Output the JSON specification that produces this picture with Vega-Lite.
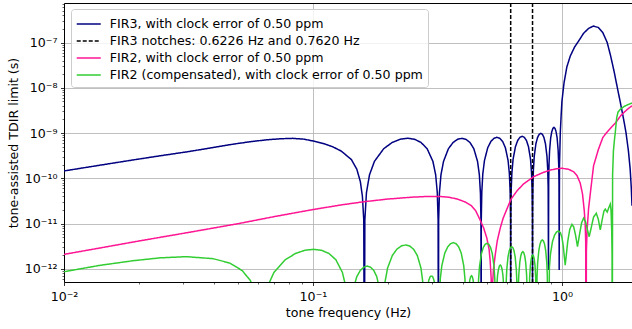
{
  "$schema": "https://vega.github.io/schema/vega-lite/v6.json",
  "width": 568,
  "height": 279,
  "autosize": {"type": "none"},
  "padding": {"left": 64, "top": 3, "right": 0, "bottom": 47},
  "background": "white",
  "datasets": {
    "fir3": [
      {"f":0.01,"v":1.46e-10},{"f":0.0139,"v":1.95e-10},{"f":0.0189,"v":2.55e-10},{"f":0.0243,"v":3.15e-10},{"f":0.0316,"v":3.9e-10},{"f":0.0397,"v":4.8e-10},{"f":0.0478,"v":5.7e-10},{"f":0.0565,"v":6.5e-10},{"f":0.0652,"v":7.1e-10},{"f":0.074,"v":7.5e-10},{"f":0.083,"v":7.65e-10},{"f":0.092,"v":7.35e-10},{"f":0.1,"v":6.7e-10},{"f":0.11,"v":5.9e-10},{"f":0.12,"v":5.0e-10},{"f":0.13,"v":4.0e-10},{"f":0.1427,"v":2.6e-10},{"f":0.15,"v":1.6e-10},{"f":0.155,"v":8.5e-11},{"f":0.158,"v":4e-11},{"f":0.16,"v":1.2e-11},{"f":0.1608,"v":1e-15},
      {"f":0.1616,"v":1.21e-11},{"f":0.164,"v":4.84e-11},{"f":0.1687,"v":1.2e-10},{"f":0.1766,"v":2.38e-10},{"f":0.1924,"v":4.53e-10},{"f":0.2083,"v":6.23e-10},{"f":0.2241,"v":7.32e-10},{"f":0.2399,"v":7.7e-10},{"f":0.2557,"v":7.32e-10},{"f":0.2715,"v":6.23e-10},{"f":0.2874,"v":4.53e-10},{"f":0.3032,"v":2.38e-10},{"f":0.3111,"v":1.2e-10},{"f":0.3158,"v":4.84e-11},{"f":0.3182,"v":1.21e-11},{"f":0.319,"v":1e-15},
      {"f":0.3198,"v":1.2e-11},{"f":0.3221,"v":4.82e-11},{"f":0.3267,"v":1.2e-10},{"f":0.3345,"v":2.37e-10},{"f":0.3499,"v":4.51e-10},{"f":0.3654,"v":6.2e-10},{"f":0.3809,"v":7.29e-10},{"f":0.3964,"v":7.67e-10},{"f":0.4118,"v":7.29e-10},{"f":0.4273,"v":6.2e-10},{"f":0.4428,"v":4.51e-10},{"f":0.4582,"v":2.37e-10},{"f":0.466,"v":1.2e-10},{"f":0.4706,"v":4.82e-11},{"f":0.4729,"v":1.2e-11},{"f":0.4737,"v":1e-15},
      {"f":0.4744,"v":1.27e-11},{"f":0.4767,"v":5.07e-11},{"f":0.4811,"v":1.26e-10},{"f":0.4886,"v":2.5e-10},{"f":0.5035,"v":4.75e-10},{"f":0.5184,"v":6.54e-10},{"f":0.5333,"v":7.68e-10},{"f":0.5482,"v":8.08e-10},{"f":0.563,"v":7.68e-10},{"f":0.5779,"v":6.54e-10},{"f":0.5928,"v":4.75e-10},{"f":0.6077,"v":2.5e-10},{"f":0.6152,"v":1.26e-10},{"f":0.6196,"v":5.07e-11},{"f":0.6219,"v":1.27e-11},{"f":0.6226,"v":1e-15},
      {"f":0.6233,"v":1.33e-11},{"f":0.6254,"v":5.34e-11},{"f":0.6296,"v":1.33e-10},{"f":0.6365,"v":2.63e-10},{"f":0.6505,"v":5.0e-10},{"f":0.6644,"v":6.88e-10},{"f":0.6784,"v":8.08e-10},{"f":0.6923,"v":8.5e-10},{"f":0.7062,"v":8.08e-10},{"f":0.7202,"v":6.88e-10},{"f":0.7341,"v":5.0e-10},{"f":0.7481,"v":2.63e-10},{"f":0.755,"v":1.33e-10},{"f":0.7592,"v":5.34e-11},{"f":0.7613,"v":1.33e-11},{"f":0.762,"v":1e-15},
      {"f":0.7626,"v":1.55e-11},{"f":0.7644,"v":6.22e-11},{"f":0.7681,"v":1.55e-10},{"f":0.7741,"v":3.06e-10},{"f":0.7862,"v":5.82e-10},{"f":0.7983,"v":8.01e-10},{"f":0.8104,"v":9.41e-10},{"f":0.8225,"v":9.9e-10},{"f":0.8346,"v":9.41e-10},{"f":0.8467,"v":8.01e-10},{"f":0.8588,"v":5.82e-10},{"f":0.8709,"v":3.06e-10},{"f":0.877,"v":1.55e-10},{"f":0.8806,"v":6.22e-11},{"f":0.883,"v":9.5e-13},
      {"f":0.8848,"v":8.4e-11},{"f":0.8876,"v":2.1e-10},{"f":0.8922,"v":4.14e-10},{"f":0.9014,"v":7.88e-10},{"f":0.9106,"v":1.08e-9},{"f":0.9198,"v":1.27e-9},{"f":0.929,"v":1.34e-9},{"f":0.9382,"v":1.27e-9},{"f":0.9474,"v":1.08e-9},{"f":0.9566,"v":7.88e-10},{"f":0.9658,"v":4.14e-10},{"f":0.9704,"v":2.1e-10},{"f":0.9732,"v":8.4e-11},{"f":0.975,"v":9.5e-13},
      {"f":0.978,"v":2e-10},{"f":0.985,"v":1.0e-9},{"f":0.993,"v":2.5e-9},{"f":1.0,"v":5e-9},{"f":1.02,"v":1.3e-8},{"f":1.047,"v":2.9e-8},{"f":1.08,"v":5e-8},{"f":1.125,"v":8e-8},{"f":1.17,"v":1.1e-7},{"f":1.222,"v":1.6e-7},{"f":1.28,"v":2.05e-7},{"f":1.337,"v":2.3e-7},{"f":1.4,"v":2.15e-7},{"f":1.46,"v":1.65e-7},{"f":1.52,"v":1.0e-7},{"f":1.57,"v":5e-8},{"f":1.62,"v":2.3e-8},{"f":1.67,"v":1.0e-8},{"f":1.72,"v":4.5e-9},{"f":1.77,"v":2e-9},{"f":1.81,"v":1e-9},{"f":1.85,"v":4e-10},{"f":1.88,"v":1.6e-10},{"f":1.9,"v":6e-11},{"f":1.912,"v":2.5e-11}
    ],
    "fir2": [
      {"f":0.01,"v":2.1e-12},{"f":0.0139,"v":2.9e-12},{"f":0.02,"v":4.15e-12},{"f":0.0316,"v":6.4e-12},{"f":0.05,"v":1.0e-11},{"f":0.0707,"v":1.45e-11},{"f":0.1,"v":2.05e-11},{"f":0.13,"v":2.6e-11},{"f":0.16,"v":3.05e-11},{"f":0.2,"v":3.5e-11},{"f":0.25,"v":3.85e-11},{"f":0.29,"v":4.0e-11},{"f":0.32,"v":4.0e-11},{"f":0.35,"v":3.85e-11},{"f":0.38,"v":3.5e-11},{"f":0.41,"v":3.0e-11},{"f":0.433,"v":2.5e-11},{"f":0.45,"v":1.95e-11},{"f":0.4695,"v":1.2e-11},{"f":0.485,"v":8e-12},{"f":0.4994,"v":4.8e-12},{"f":0.51,"v":2.7e-12},{"f":0.515,"v":1.5e-12},{"f":0.52,"v":6e-13},{"f":0.523,"v":1e-15},
      {"f":0.527,"v":5e-13},{"f":0.531,"v":1.0e-12},{"f":0.54,"v":2.1e-12},{"f":0.55,"v":4.2e-12},{"f":0.565,"v":7.9e-12},{"f":0.58,"v":1.3e-11},{"f":0.601,"v":2.1e-11},{"f":0.625,"v":3.5e-11},{"f":0.66,"v":5.3e-11},{"f":0.7,"v":7.5e-11},{"f":0.77,"v":1.09e-10},{"f":0.84,"v":1.35e-10},{"f":0.9,"v":1.53e-10},{"f":0.95,"v":1.63e-10},{"f":1.0,"v":1.67e-10},{"f":1.06,"v":1.6e-10},{"f":1.113,"v":1.41e-10},{"f":1.15,"v":1.15e-10},{"f":1.185,"v":7.8e-11},{"f":1.21,"v":4.5e-11},{"f":1.229,"v":2.0e-11},{"f":1.24,"v":1.0e-11},{"f":1.246,"v":4e-12},{"f":1.25,"v":1e-15},
      {"f":1.254,"v":2.5e-12},{"f":1.262,"v":7e-12},{"f":1.28,"v":2.2e-11},{"f":1.305,"v":5.5e-11},{"f":1.34,"v":1.9e-10},{"f":1.4,"v":4.3e-10},{"f":1.46,"v":8e-10},{"f":1.517,"v":1.05e-9},{"f":1.58,"v":1.35e-9},{"f":1.637,"v":1.65e-9},{"f":1.68,"v":2.0e-9},{"f":1.72,"v":2.4e-9},{"f":1.78,"v":2.9e-9},{"f":1.85,"v":3.5e-9},{"f":1.912,"v":4.0e-9}
    ],
    "fir2c": [
      {"f":0.01,"v":8.7e-13},{"f":0.0139,"v":1.2e-12},{"f":0.0189,"v":1.52e-12},{"f":0.0243,"v":1.76e-12},{"f":0.031,"v":1.87e-12},{"f":0.0397,"v":1.69e-12},{"f":0.0464,"v":1.35e-12},{"f":0.052,"v":9.2e-13},{"f":0.056,"v":5.6e-13},{"f":0.059,"v":2.8e-13},{"f":0.062,"v":1e-15},
      {"f":0.0659,"v":4.25e-13},{"f":0.0697,"v":8.4e-13},{"f":0.0774,"v":1.6e-12},{"f":0.0851,"v":2.2e-12},{"f":0.0928,"v":2.59e-12},{"f":0.1005,"v":2.72e-12},{"f":0.1082,"v":2.59e-12},{"f":0.1159,"v":2.2e-12},{"f":0.1236,"v":1.6e-12},{"f":0.1313,"v":8.4e-13},{"f":0.1352,"v":4.25e-13},{"f":0.14,"v":1e-15},
      {"f":0.145,"v":3.58e-13},{"f":0.1501,"v":6.82e-13},{"f":0.1551,"v":9.38e-13},{"f":0.1602,"v":1.1e-12},{"f":0.1652,"v":1.16e-12},{"f":0.1702,"v":1.1e-12},{"f":0.1753,"v":9.38e-13},{"f":0.1803,"v":6.82e-13},{"f":0.1854,"v":3.58e-13},{"f":0.1904,"v":1e-15},
      {"f":0.1949,"v":5.3e-13},{"f":0.1994,"v":1.05e-12},{"f":0.2084,"v":1.99e-12},{"f":0.2174,"v":2.74e-12},{"f":0.2264,"v":3.22e-12},{"f":0.2355,"v":3.39e-12},{"f":0.2445,"v":3.22e-12},{"f":0.2535,"v":2.74e-12},{"f":0.2625,"v":1.99e-12},{"f":0.2715,"v":1.05e-12},{"f":0.276,"v":5.3e-13},{"f":0.2805,"v":1e-15},
      {"f":0.2819,"v":1e-15},{"f":0.2888,"v":4.17e-13},{"f":0.2922,"v":5.74e-13},{"f":0.2956,"v":6.75e-13},{"f":0.2991,"v":7.1e-13},{"f":0.3026,"v":6.75e-13},{"f":0.306,"v":5.74e-13},{"f":0.3094,"v":4.17e-13},{"f":0.3163,"v":1e-15},
      {"f":0.32,"v":1e-15},{"f":0.3246,"v":5.96e-13},{"f":0.3293,"v":1.18e-12},{"f":0.3385,"v":2.24e-12},{"f":0.3478,"v":3.08e-12},{"f":0.357,"v":3.62e-12},{"f":0.3663,"v":3.81e-12},{"f":0.3756,"v":3.62e-12},{"f":0.3848,"v":3.08e-12},{"f":0.3941,"v":2.24e-12},{"f":0.4033,"v":1.18e-12},{"f":0.408,"v":5.96e-13},{"f":0.4126,"v":1e-15},
      {"f":0.4166,"v":1e-15},{"f":0.4232,"v":4.17e-13},{"f":0.4266,"v":5.74e-13},{"f":0.4299,"v":6.75e-13},{"f":0.4332,"v":7.1e-13},{"f":0.4365,"v":6.75e-13},{"f":0.4398,"v":5.74e-13},{"f":0.4432,"v":4.17e-13},{"f":0.4498,"v":1e-15},
      {"f":0.4583,"v":1e-15},{"f":0.4625,"v":5.77e-13},{"f":0.4667,"v":1.14e-12},{"f":0.475,"v":2.17e-12},{"f":0.4834,"v":2.99e-12},{"f":0.4918,"v":3.51e-12},{"f":0.5002,"v":3.69e-12},{"f":0.5085,"v":3.51e-12},{"f":0.5169,"v":2.99e-12},{"f":0.5253,"v":2.17e-12},{"f":0.5336,"v":1.14e-12},{"f":0.5378,"v":5.77e-13},{"f":0.542,"v":1e-15},
      {"f":0.5467,"v":3.77e-13},{"f":0.5514,"v":7.17e-13},{"f":0.5561,"v":9.87e-13},{"f":0.5608,"v":1.16e-12},{"f":0.5655,"v":1.22e-12},{"f":0.5702,"v":1.16e-12},{"f":0.5749,"v":9.87e-13},{"f":0.5796,"v":7.17e-13},{"f":0.5843,"v":3.77e-13},{"f":0.589,"v":1e-15},
      {"f":0.5934,"v":1e-15},{"f":0.5969,"v":4.86e-13},{"f":0.6004,"v":9.61e-13},{"f":0.6073,"v":1.83e-12},{"f":0.6143,"v":2.52e-12},{"f":0.6212,"v":2.96e-12},{"f":0.6282,"v":3.11e-12},{"f":0.6352,"v":2.96e-12},{"f":0.6421,"v":2.52e-12},{"f":0.6491,"v":1.83e-12},{"f":0.656,"v":9.61e-13},{"f":0.6595,"v":4.86e-13},{"f":0.663,"v":1e-15},
      {"f":0.6648,"v":1e-15},{"f":0.668,"v":3.77e-13},{"f":0.6711,"v":7.45e-13},{"f":0.6774,"v":1.42e-12},{"f":0.6836,"v":1.95e-12},{"f":0.6899,"v":2.29e-12},{"f":0.6962,"v":2.41e-12},{"f":0.7025,"v":2.29e-12},{"f":0.7088,"v":1.95e-12},{"f":0.715,"v":1.42e-12},{"f":0.7213,"v":7.45e-13},{"f":0.7245,"v":3.77e-13},{"f":0.7276,"v":1e-15},
      {"f":0.7364,"v":1e-15},{"f":0.7418,"v":6.3e-13},{"f":0.7472,"v":1.2e-12},{"f":0.7526,"v":1.65e-12},{"f":0.758,"v":1.94e-12},{"f":0.7634,"v":2.04e-12},{"f":0.7688,"v":1.94e-12},{"f":0.7742,"v":1.65e-12},{"f":0.7796,"v":1.2e-12},{"f":0.785,"v":6.3e-13},{"f":0.79,"v":1e-15},
      {"f":0.7944,"v":6.83e-13},{"f":0.7988,"v":1.35e-12},{"f":0.8077,"v":2.57e-12},{"f":0.8165,"v":3.54e-12},{"f":0.8253,"v":4.16e-12},{"f":0.8342,"v":4.37e-12},{"f":0.843,"v":4.16e-12},{"f":0.8518,"v":3.54e-12},{"f":0.8606,"v":2.57e-12},{"f":0.8695,"v":1.35e-12},{"f":0.8739,"v":6.83e-13},{"f":0.8783,"v":1e-15},
      {"f":0.882,"v":1e-15},{"f":0.8907,"v":1.08e-12},{"f":0.8994,"v":2.13e-12},{"f":0.9168,"v":4.06e-12},{"f":0.9342,"v":5.58e-12},{"f":0.9516,"v":6.56e-12},{"f":0.969,"v":6.9e-12},{"f":0.986,"v":6.3e-12},{"f":1.0,"v":5.0e-12},{"f":1.012,"v":3.3e-12},{"f":1.022,"v":1.9e-12},{"f":1.031,"v":1.22e-12},{"f":1.04,"v":1.9e-12},{"f":1.055,"v":4e-12},{"f":1.075,"v":7.5e-12},{"f":1.097,"v":9.7e-12},{"f":1.115,"v":8.5e-12},{"f":1.135,"v":5.5e-12},{"f":1.155,"v":3.11e-12},{"f":1.175,"v":5.5e-12},{"f":1.2,"v":1.05e-11},{"f":1.222,"v":1.32e-11},{"f":1.245,"v":1.1e-11},{"f":1.265,"v":7.5e-12},{"f":1.287,"v":5.16e-12},{"f":1.31,"v":8e-12},{"f":1.34,"v":1.4e-11},{"f":1.374,"v":1.7e-11},{"f":1.4,"v":1.25e-11},{"f":1.426,"v":7.26e-12},{"f":1.45,"v":1.2e-11},{"f":1.475,"v":1.9e-11},{"f":1.493,"v":2.1e-11},{"f":1.52,"v":1.8e-11},{"f":1.545,"v":2.3e-11},{"f":1.564,"v":2.7e-11},{"f":1.575,"v":2e-11},{"f":1.585,"v":7e-12},{"f":1.59,"v":2e-12},{"f":1.592,"v":1e-15},
      {"f":1.598,"v":1.2e-10},{"f":1.61,"v":4e-10},{"f":1.625,"v":7e-10},{"f":1.637,"v":1e-9},{"f":1.66,"v":2.2e-9},{"f":1.68,"v":2.9e-9},{"f":1.72,"v":3.4e-9},{"f":1.78,"v":3.9e-9},{"f":1.85,"v":4.3e-9},{"f":1.912,"v":4.6e-9}
    ],
    "notches": [{"f":0.6226},{"f":0.762}],
    "anchor": [{"f":0.1,"v":1e-10}]
  },
  "layer": [
    {
      "data": {"name": "fir3"},
      "mark": {"type": "line", "clip": true, "strokeWidth": 1.5},
      "encoding": {
        "x": {"field": "f", "type": "quantitative", "scale": {"type": "log", "domain": [0.01, 1.912], "nice": false},
          "axis": {"orient": "bottom", "values": [0.01, 0.1, 1], "grid": true, "labelExpr": "datum.value < 0.05 ? '10⁻²' : datum.value < 0.5 ? '10⁻¹' : '10⁰'", "title": "tone frequency (Hz)", "labelPadding": 4.5, "titlePadding": 4}},
        "y": {"field": "v", "type": "quantitative", "scale": {"type": "log", "domain": [5.16e-13, 7.45e-7], "nice": false},
          "axis": {"orient": "left", "values": [1e-12, 1e-11, 1e-10, 1e-9, 1e-8, 1e-7], "grid": true, "labelExpr": "'10' + (datum.value < 3e-12 ? '⁻¹²' : datum.value < 3e-11 ? '⁻¹¹' : datum.value < 3e-10 ? '⁻¹⁰' : datum.value < 3e-9 ? '⁻⁹' : datum.value < 3e-8 ? '⁻⁸' : '⁻⁷')", "title": "tone-assisted TDIR limit (s)", "titlePadding": 4}},
        "color": {"datum": "FIR3, with clock error of 0.50 ppm", "type": "nominal",
          "scale": {"domain": ["FIR3, with clock error of 0.50 ppm", "FIR3 notches: 0.6226 Hz and 0.7620 Hz", "FIR2, with clock error of 0.50 ppm", "FIR2 (compensated), with clock error of 0.50 ppm"], "range": ["#000080", "#000000", "#ff1493", "#32cd32"]}},
        "strokeDash": {"datum": "FIR3, with clock error of 0.50 ppm", "type": "nominal",
          "scale": {"domain": ["FIR3, with clock error of 0.50 ppm", "FIR3 notches: 0.6226 Hz and 0.7620 Hz", "FIR2, with clock error of 0.50 ppm", "FIR2 (compensated), with clock error of 0.50 ppm"], "range": [[1, 0], [4, 2], [1, 0], [1, 0]]}}
      }
    },
    {
      "data": {"name": "notches"},
      "mark": {"type": "rule", "strokeWidth": 1.5},
      "encoding": {
        "x": {"field": "f", "type": "quantitative", "scale": {"type": "log", "domain": [0.01, 1.912], "nice": false}, "axis": null},
        "color": {"datum": "FIR3 notches: 0.6226 Hz and 0.7620 Hz", "type": "nominal"},
        "strokeDash": {"datum": "FIR3 notches: 0.6226 Hz and 0.7620 Hz", "type": "nominal"}
      }
    },
    {
      "data": {"name": "fir2"},
      "mark": {"type": "line", "clip": true, "strokeWidth": 1.5},
      "encoding": {
        "x": {"field": "f", "type": "quantitative", "scale": {"type": "log", "domain": [0.01, 1.912], "nice": false}, "axis": null},
        "y": {"field": "v", "type": "quantitative", "scale": {"type": "log", "domain": [5.16e-13, 7.45e-7], "nice": false}, "axis": null},
        "color": {"datum": "FIR2, with clock error of 0.50 ppm", "type": "nominal"},
        "strokeDash": {"datum": "FIR2, with clock error of 0.50 ppm", "type": "nominal"}
      }
    },
    {
      "data": {"name": "fir2c"},
      "mark": {"type": "line", "clip": true, "strokeWidth": 1.5},
      "encoding": {
        "x": {"field": "f", "type": "quantitative", "scale": {"type": "log", "domain": [0.01, 1.912], "nice": false}, "axis": null},
        "y": {"field": "v", "type": "quantitative", "scale": {"type": "log", "domain": [5.16e-13, 7.45e-7], "nice": false}, "axis": null},
        "color": {"datum": "FIR2 (compensated), with clock error of 0.50 ppm", "type": "nominal"},
        "strokeDash": {"datum": "FIR2 (compensated), with clock error of 0.50 ppm", "type": "nominal"}
      }
    },
    {
      "data": {"name": "anchor"},
      "mark": {"type": "point", "opacity": 0, "size": 0},
      "encoding": {
        "x": {"field": "f", "type": "quantitative", "scale": {"type": "log", "domain": [0.01, 1.912], "nice": false},
          "axis": {"orient": "bottom", "values": [0.02,0.03,0.04,0.05,0.06,0.07,0.08,0.09,0.2,0.3,0.4,0.5,0.6,0.7,0.8,0.9], "labels": false, "grid": false, "domain": false, "tickSize": 2, "tickWidth": 0.6, "title": null}},
        "y": {"field": "v", "type": "quantitative", "scale": {"type": "log", "domain": [5.16e-13, 7.45e-7], "nice": false},
          "axis": {"orient": "left", "values": [6e-13,7e-13,8e-13,9e-13,2e-12,3e-12,4e-12,5e-12,6e-12,7e-12,8e-12,9e-12,2e-11,3e-11,4e-11,5e-11,6e-11,7e-11,8e-11,9e-11,2e-10,3e-10,4e-10,5e-10,6e-10,7e-10,8e-10,9e-10,2e-9,3e-9,4e-9,5e-9,6e-9,7e-9,8e-9,9e-9,2e-8,3e-8,4e-8,5e-8,6e-8,7e-8,8e-8,9e-8,2e-7,3e-7,4e-7,5e-7,6e-7,7e-7], "labels": false, "grid": false, "domain": false, "tickSize": 2, "tickWidth": 0.6, "title": null}}
      }
    },
    {
      "data": {"name": "anchor"},
      "mark": {"type": "point", "opacity": 0, "size": 0},
      "encoding": {
        "x": {"field": "f", "type": "quantitative", "scale": {"type": "log", "domain": [0.01, 1.912], "nice": false},
          "axis": {"orient": "top", "values": [0.1], "labels": false, "ticks": false, "grid": false, "domain": true, "title": null}},
        "y": {"field": "v", "type": "quantitative", "scale": {"type": "log", "domain": [5.16e-13, 7.45e-7], "nice": false}, "axis": null}
      }
    }
  ],
  "resolve": {"axis": {"x": "independent", "y": "independent"}},
  "config": {
    "font": "DejaVu Sans",
    "view": {"stroke": null},
    "axis": {
      "labelFont": "DejaVu Sans", "labelFontSize": 12.6, "labelColor": "#000000",
      "titleFont": "DejaVu Sans", "titleFontSize": 12.6, "titleFontWeight": "normal", "titleColor": "#000000",
      "tickColor": "#000000", "tickSize": 3.5, "tickWidth": 0.8,
      "domainColor": "#000000", "domainWidth": 1,
      "gridColor": "#b0b0b0", "gridWidth": 0.8,
      "labelPadding": 3.5, "labelFlush": false, "labelOverlap": false
    },
    "legend": {
      "orient": "none", "legendX": 7, "legendY": 6,
      "title": null,
      "fillColor": "rgba(255,255,255,0.8)", "strokeColor": "#cccccc", "cornerRadius": 3, "padding": 5,
      "symbolType": "M-1.3,0H1.3", "symbolSize": 342, "symbolStrokeWidth": 1.5, "symbolOffset": 2.75,
      "labelFont": "DejaVu Sans", "labelFontSize": 12.6, "labelColor": "#000000", "labelLimit": 500, "labelOffset": 11,
      "rowPadding": 0
    }
  }
}
